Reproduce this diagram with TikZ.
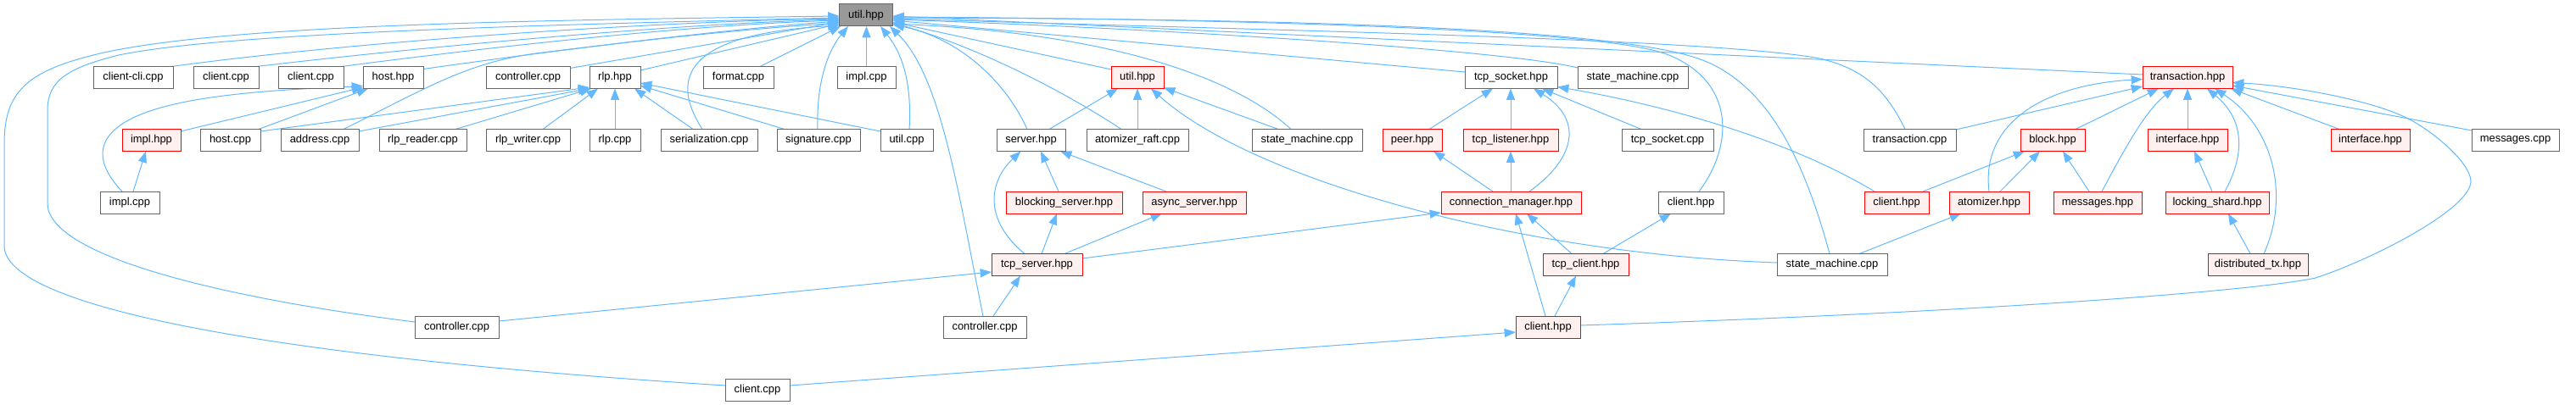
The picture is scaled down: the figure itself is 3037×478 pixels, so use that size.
\documentclass[tikz,border=0pt]{standalone}
\usepackage{fontspec}
\setmainfont{Liberation Sans}
\usetikzlibrary{arrows.meta,calc}
\definecolor{edgec}{HTML}{63B8FF}
\definecolor{gborder}{HTML}{666666}
\definecolor{rfill}{HTML}{FFF0F0}
\definecolor{ufill}{HTML}{999999}
\pgfdeclarelayer{bg}
\pgfsetlayers{bg,main}
\begin{document}
\begin{tikzpicture}[x=0.75pt,y=-0.75pt,
 box/.style={draw, rectangle, line width=0.75pt, inner sep=0pt, minimum height=19.5pt, font=\fontsize{9.7}{11}\selectfont, text=black},
 gbox/.style={box, draw=gborder, fill=white},
 rbox/.style={box, draw=red, fill=rfill},
 ubox/.style={box, draw=gborder, fill=ufill},
 bw/.style={minimum width=#1*0.75pt},
 edge/.style={draw=edgec, line width=0.75pt, -{Triangle[length=10pt,width=7.5pt]}}]
\useasboundingbox (0,0) rectangle (3037,478);
% row 0
\node[ubox,bw=63] (util) at (1021,18) {util.hpp};
% row 1
\node[gbox,bw=94] (cli) at (157,91.5) {client-cli.cpp};
\node[gbox,bw=77] (clA) at (266.5,91.5) {client.cpp};
\node[gbox,bw=77] (clB) at (366.5,91.5) {client.cpp};
\node[gbox,bw=71] (hosthpp) at (463.5,91.5) {host.hpp};
\node[gbox,bw=99] (ctrl1) at (622.5,91.5) {controller.cpp};
\node[gbox,bw=60] (rlphpp) at (725,91.5) {rlp.hpp};
\node[gbox,bw=83] (fmt) at (870.5,91.5) {format.cpp};
\node[gbox,bw=69] (impl1) at (1021.5,91.5) {impl.cpp};
\node[rbox,bw=62] (utilr) at (1341,91.5) {util.hpp};
\node[gbox,bw=109] (tcpsock) at (1781.5,91.5) {tcp\_socket.hpp};
\node[gbox,bw=130] (sm1) at (1925,91.5) {state\_machine.cpp};
\node[rbox,bw=106] (txhpp) at (2579,91.5) {transaction.hpp};
% row 2
\node[rbox,bw=69] (implhpp) at (178.5,165.5) {impl.hpp};
\node[gbox,bw=71] (hostcpp) at (271.5,165.5) {host.cpp};
\node[gbox,bw=92] (addr) at (377,165.5) {address.cpp};
\node[gbox,bw=103] (rlpr) at (498.5,165.5) {rlp\_reader.cpp};
\node[gbox,bw=99] (rlpw) at (622.5,165.5) {rlp\_writer.cpp};
\node[gbox,bw=60] (rlpcpp) at (725,165.5) {rlp.cpp};
\node[gbox,bw=114] (ser) at (836,165.5) {serialization.cpp};
\node[gbox,bw=98] (sig) at (965,165.5) {signature.cpp};
\node[gbox,bw=62] (utilcpp) at (1069,165.5) {util.cpp};
\node[gbox,bw=81] (server) at (1215.5,165.5) {server.hpp};
\node[gbox,bw=120] (araft) at (1341,165.5) {atomizer\_raft.cpp};
\node[gbox,bw=130] (sm2) at (1541,165.5) {state\_machine.cpp};
\node[rbox,bw=70] (peer) at (1665,165.5) {peer.hpp};
\node[rbox,bw=112] (tcplis) at (1781,165.5) {tcp\_listener.hpp};
\node[gbox,bw=108] (tcpsockcpp) at (1966,165.5) {tcp\_socket.cpp};
\node[gbox,bw=109] (txcpp) at (2251.5,165.5) {transaction.cpp};
\node[rbox,bw=76] (block) at (2420,165.5) {block.hpp};
\node[rbox,bw=94] (iface1) at (2579,165.5) {interface.hpp};
\node[rbox,bw=93] (iface2) at (2794.5,165.5) {interface.hpp};
\node[gbox,bw=103] (msgcpp) at (2965.5,165.5) {messages.cpp};
% row 3
\node[gbox,bw=70] (impl3) at (153,239) {impl.cpp};
\node[rbox,bw=137] (blocking) at (1254.5,239) {blocking\_server.hpp};
\node[rbox,bw=122] (async) at (1408,239) {async\_server.hpp};
\node[rbox,bw=165] (connmgr) at (1781.5,239) {connection\_manager.hpp};
\node[gbox,bw=77] (clientg) at (1993.5,239) {client.hpp};
\node[rbox,bw=76] (clientr3) at (2236,239) {client.hpp};
\node[rbox,bw=94] (atomizer) at (2345,239) {atomizer.hpp};
\node[rbox,bw=104] (msghpp) at (2473,239) {messages.hpp};
\node[rbox,bw=122] (lshard) at (2614,239) {locking\_shard.hpp};
% row 4
\node[rbox,bw=107] (tcpserver) at (1222.5,312.5) {tcp\_server.hpp};
\node[rbox,bw=101] (tcpclient) at (1869.5,312.5) {tcp\_client.hpp};
\node[gbox,bw=130] (sm4) at (2160,312.5) {state\_machine.cpp};
\node[rbox,bw=118] (dtx) at (2662,312.5) {distributed\_tx.hpp};
% row 5
\node[gbox,bw=99] (ctrl5a) at (538.5,386) {controller.cpp};
\node[gbox,bw=98] (ctrl5b) at (1161,386) {controller.cpp};
\node[rbox,bw=76] (clientr5) at (1825,386) {client.hpp};
% row 6
\node[gbox,bw=76] (client6) at (893,460) {client.cpp};

\begin{pgfonlayer}{bg}
% ---- into util.hpp
\draw[edge] ($(client6)+(-38,-5)$) .. controls (300,420) and (5,360) .. (5,290) -- (5,170) .. controls (5,110) and (30,85) .. (110,65) .. controls (250,30) and (600,24) .. ($(util)+(-31.5,1)$);
\draw[edge] ($(ctrl5a)+(-49.5,-6)$) .. controls (250,350) and (56,300) .. (56,240) -- (56,130) .. controls (56,95) and (80,80) .. (140,65) .. controls (260,40) and (600,30) .. ($(util)+(-31.5,3)$);
\draw[edge] ($(cli)+(45,-13)$) .. controls (450,45) and (800,25) .. ($(util)+(-31.5,4)$);
\draw[edge] ($(clA)+(36,-13)$) .. controls (500,55) and (800,28) .. ($(util)+(-31.5,5)$);
\draw[edge] ($(clB)+(36,-13)$) .. controls (560,58) and (800,30) .. ($(util)+(-31.5,6)$);
\draw[edge] ($(hosthpp)+(35.5,-10)$) .. controls (650,60) and (850,35) .. ($(util)+(-31.5,7)$);
\draw[edge] ($(addr)+(28,-13)$) .. controls (510,100) and (555,72) .. (640,62) .. controls (800,42) and (900,33) .. ($(util)+(-31.5,9)$);
\draw[edge] ($(ctrl1)+(49.5,-11)$) -- ($(util)+(-31.5,8)$);
\draw[edge] ($(rlphpp)+(30,-8.5)$) -- ($(util)+(-31.5,10)$);
\draw[edge] ($(ser)+(-8,-13)$) .. controls (775,70) and (850,38) .. ($(util)+(-31.5,12)$);
\draw[edge] ($(fmt)+(25.5,-13)$) -- ($(util)+(-30,13)$);
\draw[edge] ($(sig)+(-1,-13)$) .. controls (962,90) and (980,55) .. ($(util)+(-21,13)$);
\draw[edge] ($(impl1)+(0,-13)$) -- ($(util)+(0.5,13)$);
\draw[edge] ($(utilcpp)+(3,-13)$) .. controls (1075,100) and (1065,65) .. ($(util)+(17,13)$);
\draw[edge] ($(ctrl5b)+(-2,-13)$) .. controls (1130,230) and (1110,90) .. ($(util)+(28,13)$);
\draw[edge] ($(server)+(-4.5,-13)$) .. controls (1185,95) and (1130,45) .. ($(util)+(31.5,11)$);
\draw[edge] ($(araft)+(-19,-13)$) .. controls (1250,105) and (1150,55) .. ($(util)+(31.5,9)$);
\draw[edge] ($(utilr)+(-31,-9.5)$) -- ($(util)+(31.5,8)$);
\draw[edge] ($(tcpsock)+(-54.5,-6.5)$) -- ($(util)+(31.5,6)$);
\draw[edge] ($(sm1)+(-65,-11.5)$) .. controls (1780,60) and (1400,35) .. ($(util)+(31.5,5)$);
\draw[edge] ($(sm2)+(-19,-13)$) .. controls (1460,95) and (1320,40) .. ($(util)+(31.5,10)$);
\draw[edge] ($(txhpp)+(-53,-3.5)$) -- ($(util)+(31.5,1)$);
\draw[edge] ($(txcpp)+(-5.5,-13)$) .. controls (2225,110) and (2200,80) .. (2140,68) .. controls (2000,45) and (1500,36) .. ($(util)+(31.5,4)$);
\draw[edge] ($(clientg)+(9.5,-13)$) .. controls (2045,170) and (2045,95) .. (1965,64) .. controls (1880,32) and (1400,22) .. ($(util)+(31.5,2)$);
\draw[edge] ($(sm4)+(-3,-13)$) .. controls (2130,200) and (2090,105) .. (2010,72) .. controls (1900,27) and (1400,22) .. ($(util)+(31.5,3)$);
% ---- into util.hpp (red)
\draw[edge] ($(server)+(21.5,-13)$) -- ($(utilr)+(-23,13)$);
\draw[edge] ($(araft)+(0,-13)$) -- ($(utilr)+(0,13)$);
\draw[edge] ($(sm2)+(-34,-13)$) -- ($(utilr)+(31,12)$);
\draw[edge] ($(sm4)+(-65,-2.5)$) .. controls (1800,300) and (1480,215) .. ($(utilr)+(16,13)$);
% ---- into rlp.hpp
\draw[edge] ($(hostcpp)+(35.5,-10.5)$) -- ($(rlphpp)+(-30,11.5)$);
\draw[edge] ($(addr)+(46,-10.5)$) -- ($(rlphpp)+(-30,13)$);
\draw[edge] ($(rlpr)+(38.5,-13)$) -- ($(rlphpp)+(-28,13)$);
\draw[edge] ($(rlpw)+(17.5,-13)$) -- ($(rlphpp)+(-20,13)$);
\draw[edge] ($(rlpcpp)+(0,-13)$) -- ($(rlphpp)+(0,13)$);
\draw[edge] ($(ser)+(-19,-13)$) -- ($(rlphpp)+(23,13)$);
\draw[edge] ($(sig)+(-40,-13)$) -- ($(rlphpp)+(30,9.5)$);
\draw[edge] ($(utilcpp)+(-31,-10.5)$) -- ($(rlphpp)+(30,6.5)$);
% ---- into host.hpp / impl.hpp
\draw[edge] ($(implhpp)+(34.5,-10.5)$) -- ($(hosthpp)+(-35.5,11.5)$);
\draw[edge] ($(hostcpp)+(33.5,-13)$) -- ($(hosthpp)+(-29.5,13)$);
\draw[edge] ($(impl3)+(-9,-13)$) .. controls (105,185) and (105,140) .. (230,118) .. controls (300,106) and (380,104) .. ($(hosthpp)+(-35.5,10)$);
\draw[edge] ($(impl3)+(4,-13)$) -- ($(implhpp)+(-6.5,13)$);
% ---- server family
\draw[edge] ($(tcpserver)+(-14.5,-13)$) .. controls (1160,260) and (1165,215) .. ($(server)+(-12,13)$);
\draw[edge] ($(blocking)+(-6.5,-13)$) -- ($(server)+(11.5,13)$);
\draw[edge] ($(async)+(-33,-13)$) -- ($(server)+(34.5,13)$);
\draw[edge] ($(tcpserver)+(5.5,-13)$) -- ($(blocking)+(-8.5,13)$);
\draw[edge] ($(tcpserver)+(32.5,-13)$) -- ($(async)+(-38,13)$);
\draw[edge] ($(ctrl5a)+(49.5,-7)$) -- ($(tcpserver)+(-53.5,8.5)$);
\draw[edge] ($(ctrl5b)+(10,-13)$) -- ($(tcpserver)+(-19.5,13)$);
\draw[edge] ($(tcpserver)+(53.5,-7.5)$) -- ($(connmgr)+(-82.5,12)$);
% ---- into tcp_socket.hpp
\draw[edge] ($(peer)+(20,-13)$) -- ($(tcpsock)+(-21.5,13)$);
\draw[edge] ($(tcplis)+(0,-13)$) -- ($(tcpsock)+(-0.5,13)$);
\draw[edge] ($(connmgr)+(21.5,-13)$) .. controls (1860,185) and (1865,140) .. ($(tcpsock)+(26.5,13)$);
\draw[edge] ($(tcpsockcpp)+(-31,-13)$) -- ($(tcpsock)+(36.5,13)$);
\draw[edge] ($(clientr3)+(-26,-13)$) .. controls (2100,160) and (1950,122) .. ($(tcpsock)+(54.5,11)$);
% ---- connection manager family
\draw[edge] ($(connmgr)+(-21.5,-13)$) -- ($(peer)+(25,13)$);
\draw[edge] ($(connmgr)+(-0.5,-13)$) -- ($(tcplis)+(0,13)$);
\draw[edge] ($(tcpclient)+(-16.5,-13)$) -- ($(connmgr)+(18.5,13)$);
\draw[edge] ($(clientr5)+(-3,-13)$) -- ($(connmgr)+(5.5,13)$);
\draw[edge] ($(tcpclient)+(20.5,-13)$) -- ($(clientg)+(-23.5,13)$);
\draw[edge] ($(clientr5)+(8,-13)$) -- ($(tcpclient)+(-11.5,13)$);
\draw[edge] ($(client6)+(38,-5)$) -- ($(clientr5)+(-38,6)$);
\draw[edge] ($(clientr5)+(38,-2)$) .. controls (2300,370) and (2650,345) .. (2730,328) .. controls (2800,305) and (2915,245) .. (2913,213) .. controls (2911,190) and (2865,152) .. (2835,138) .. controls (2790,117) and (2700,101) .. ($(txhpp)+(53,6)$);
% ---- into transaction.hpp
\draw[edge] ($(atomizer)+(0,-13)$) .. controls (2335,145) and (2410,100) .. ($(txhpp)+(-53,2)$);
\draw[edge] ($(txcpp)+(54.5,-12.5)$) -- ($(txhpp)+(-53,10.5)$);
\draw[edge] ($(block)+(27,-13)$) -- ($(txhpp)+(-34,13)$);
\draw[edge] ($(msghpp)+(5,-13)$) .. controls (2505,175) and (2530,130) .. ($(txhpp)+(-16,13)$);
\draw[edge] ($(iface1)+(0,-13)$) -- ($(txhpp)+(0,13)$);
\draw[edge] ($(lshard)+(9,-13)$) .. controls (2648,180) and (2645,140) .. ($(txhpp)+(23,13)$);
\draw[edge] ($(dtx)+(7,-13)$) .. controls (2700,230) and (2680,150) .. ($(txhpp)+(32,13)$);
\draw[edge] ($(iface2)+(-36.5,-13)$) -- ($(txhpp)+(51,13)$);
\draw[edge] ($(msgcpp)+(-51.5,-11.5)$) -- ($(txhpp)+(53,9.5)$);
% ---- into block.hpp and others
\draw[edge] ($(clientr3)+(31,-13)$) -- ($(block)+(-33,13)$);
\draw[edge] ($(atomizer)+(13,-13)$) -- ($(block)+(-15,13)$);
\draw[edge] ($(msghpp)+(-10,-13)$) -- ($(block)+(12,13)$);
\draw[edge] ($(sm4)+(32,-13)$) -- ($(atomizer)+(-33,13)$);
\draw[edge] ($(lshard)+(-6,-13)$) -- ($(iface1)+(8,13)$);
\draw[edge] ($(dtx)+(-9,-13)$) -- ($(lshard)+(13,13)$);
\end{pgfonlayer}
\end{tikzpicture}
\end{document}
